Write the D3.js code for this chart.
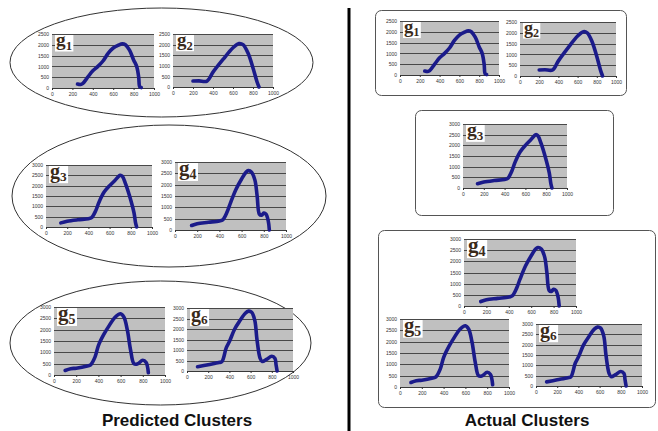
<!DOCTYPE html>
<html>
<head>
<meta charset="utf-8">
<script src="https://cdn.jsdelivr.net/npm/d3@7"></script>
<style>
  body { margin: 0; background: #fff; }
  svg { display: block; }
</style>
</head>
<body>
<div class="graph"></div>
<script>
// curves, [x, value]
var g1 = [[250,180],[280,160],[300,200],[350,500],[400,800],[450,1000],[500,1250],[550,1600],[600,1850],[650,1980],[690,2050],[720,2000],[760,1750],[800,1300],[830,1000],[850,500],[860,60],[875,20]];
var g2 = [[200,280],[260,290],[340,280],[400,700],[500,1300],[600,1850],[660,2050],[700,2000],[750,1600],[800,900],[840,250],[860,0]];
var g3 = [[140,200],[200,280],[300,350],[400,400],[430,450],[470,800],[500,1200],[550,1700],[600,2000],[650,2250],[700,2500],[720,2450],[750,2100],[800,1300],[830,700],[845,200],[855,0]];
var g4 = [[150,200],[200,280],[300,340],[400,400],[430,450],[470,800],[500,1200],[550,1800],[600,2250],[640,2550],[660,2620],[690,2550],[720,2200],[740,1500],[760,700],[780,650],[800,750],[820,700],[840,400],[850,0]];
var g5 = [[100,200],[150,280],[200,300],[300,400],[330,450],[370,800],[400,1300],[450,1800],[500,2200],[550,2550],[600,2700],[630,2550],[660,2000],[690,1100],[720,500],[750,480],[800,650],[830,550],[850,100]];
var g6 = [[100,200],[200,300],[300,400],[330,450],[370,1100],[400,1400],[450,2000],[500,2400],[550,2750],[580,2850],[610,2800],[640,2400],[660,1500],[690,600],[710,450],[750,550],[800,700],[830,600],[840,300],[850,0]];

var series = {g1: g1, g2: g2, g3: g3, g4: g4, g5: g5, g6: g6};
var xTicks = [0, 200, 400, 600, 800, 1000];
var yTicksLow = [0, 500, 1000, 1500, 2000, 2500];
var yTicksHigh = [0, 500, 1000, 1500, 2000, 2500, 3000];
var titles = ['Predicted Clusters', 'Actual Clusters'];

// where each little chart sits: plot box (x at 0 and 1000, y at top and at 0)
var panels = [
  {name: 'g1', x0: 52, x1: 154, y0: 34, y1: 88, ticks: yTicksLow},
  {name: 'g2', x0: 173, x1: 273, y0: 34, y1: 87, ticks: yTicksLow},
  {name: 'g3', x0: 46, x1: 152, y0: 165, y1: 227, ticks: yTicksHigh},
  {name: 'g4', x0: 175, x1: 286, y0: 162, y1: 230, ticks: yTicksHigh},
  {name: 'g5', x0: 54, x1: 165, y0: 307, y1: 375, ticks: yTicksHigh},
  {name: 'g6', x0: 187, x1: 293, y0: 308, y1: 371, ticks: yTicksHigh},
  {name: 'g1', x0: 400, x1: 499, y0: 21, y1: 75, ticks: yTicksLow},
  {name: 'g2', x0: 520, x1: 616, y0: 22, y1: 76, ticks: yTicksLow},
  {name: 'g3', x0: 463, x1: 567, y0: 124, y1: 188, ticks: yTicksHigh},
  {name: 'g4', x0: 464, x1: 576, y0: 239, y1: 306, ticks: yTicksHigh},
  {name: 'g5', x0: 400, x1: 509, y0: 319, y1: 387, ticks: yTicksHigh},
  {name: 'g6', x0: 536, x1: 642, y0: 324, y1: 386, ticks: yTicksHigh}
];

var svg = d3.select('.graph').append('svg')
  .attr('width', 658)
  .attr('height', 431);

// groupings: ellipses on the left, rounded boxes on the right
var ellipses = [
  {cx: 161.5, cy: 62.5, rx: 151.5, ry: 54.5},
  {cx: 169, cy: 196, rx: 157, ry: 71},
  {cx: 160.5, cy: 343, rx: 150.5, ry: 62}
];
svg.selectAll('ellipse').data(ellipses).enter().append('ellipse')
  .attr('cx', function(d) { return d.cx; })
  .attr('cy', function(d) { return d.cy; })
  .attr('rx', function(d) { return d.rx; })
  .attr('ry', function(d) { return d.ry; })
  .attr('fill', 'none')
  .attr('stroke', '#333')
  .attr('stroke-width', 1);

var boxes = [
  {x: 375.5, y: 10.5, w: 251, h: 85},
  {x: 415.5, y: 110.5, w: 198, h: 105},
  {x: 378.5, y: 230.5, w: 277, h: 177}
];
svg.selectAll('rect.box').data(boxes).enter().append('rect')
  .attr('class', 'box')
  .attr('x', function(d) { return d.x; })
  .attr('y', function(d) { return d.y; })
  .attr('width', function(d) { return d.w; })
  .attr('height', function(d) { return d.h; })
  .attr('rx', 6)
  .attr('fill', 'none')
  .attr('stroke', '#555')
  .attr('stroke-width', 1);

svg.append('rect')
  .attr('x', 347.5).attr('y', 8)
  .attr('width', 3).attr('height', 423)
  .attr('fill', '#000');

panels.forEach(function(p) {
  var x = d3.scaleLinear().domain([0, 1000]).range([p.x0, p.x1]);
  var y = d3.scaleLinear().domain([0, d3.max(p.ticks)]).range([p.y1, p.y0]);
  var g = svg.append('g');

  g.append('rect')
    .attr('x', x(0)).attr('y', y(d3.max(p.ticks)))
    .attr('width', x(1000) - x(0))
    .attr('height', y(0) - y(d3.max(p.ticks)))
    .attr('fill', '#c0c0c0');

  g.selectAll('line.grid').data(p.ticks).enter().append('line')
    .attr('x1', x(0)).attr('x2', x(1000))
    .attr('y1', function(d) { return Math.round(y(d)) + 0.5; })
    .attr('y2', function(d) { return Math.round(y(d)) + 0.5; })
    .attr('stroke', function(d) { return d === 0 ? '#222' : '#3a3a3a'; })
    .attr('stroke-width', 0.9);

  var yAxis = d3.axisLeft(y).tickValues(p.ticks).tickSize(0).tickPadding(3).tickFormat(d3.format('d'));
  g.append('g').attr('transform', 'translate(' + x(0) + ',0)').call(yAxis)
    .call(function(a) { a.select('.domain').remove(); });

  var xAxis = d3.axisBottom(x).tickValues(xTicks).tickSize(2).tickPadding(2).tickFormat(d3.format('d'));
  g.append('g').attr('transform', 'translate(0,' + y(0) + ')').call(xAxis)
    .call(function(a) { a.select('.domain').remove(); });

  g.selectAll('.tick text')
    .attr('font-family', 'Liberation Sans, Arial, sans-serif')
    .attr('font-size', 5)
    .attr('fill', '#333');
  g.selectAll('.tick line').attr('stroke', '#333');

  var line = d3.line()
    .x(function(d) { return x(d[0]); })
    .y(function(d) { return y(d[1]); })
    .curve(d3.curveCatmullRom);
  g.append('path')
    .datum(series[p.name])
    .attr('d', line)
    .attr('fill', 'none')
    .attr('stroke', '#1b1b8a')
    .attr('stroke-width', 3.6)
    .attr('stroke-linecap', 'round')
    .attr('stroke-linejoin', 'round');

  // g label in a white box at top-left
  var bw = (p.x1 - p.x0) * 0.18, bh = bw * 0.9;
  g.append('rect')
    .attr('x', x(0) + 3).attr('y', y(d3.max(p.ticks)) + 1)
    .attr('width', bw).attr('height', bh)
    .attr('fill', '#fff');
  var lbl = g.append('text')
    .attr('x', x(0) + 4).attr('y', y(d3.max(p.ticks)) + 1 + bh * 0.68)
    .attr('font-family', 'Liberation Serif, Times New Roman, serif')
    .attr('font-weight', 'bold')
    .attr('font-size', bw * 1.05)
    .attr('fill', '#3a2a1a');
  lbl.append('tspan').text('g');
  lbl.append('tspan').attr('dy', bw * 0.2).attr('font-size', bw * 0.7).text(p.name.slice(1));
});

svg.selectAll('text.title').data(titles).enter().append('text')
  .attr('class', 'title')
  .attr('x', function(d, i) { return i === 0 ? 177 : 527; })
  .attr('y', 426)
  .attr('text-anchor', 'middle')
  .attr('font-family', 'Liberation Sans, Arial, sans-serif')
  .attr('font-weight', 'bold')
  .attr('font-size', 17)
  .attr('fill', '#111')
  .text(function(d) { return d; });
</script>
</body>
</html>
